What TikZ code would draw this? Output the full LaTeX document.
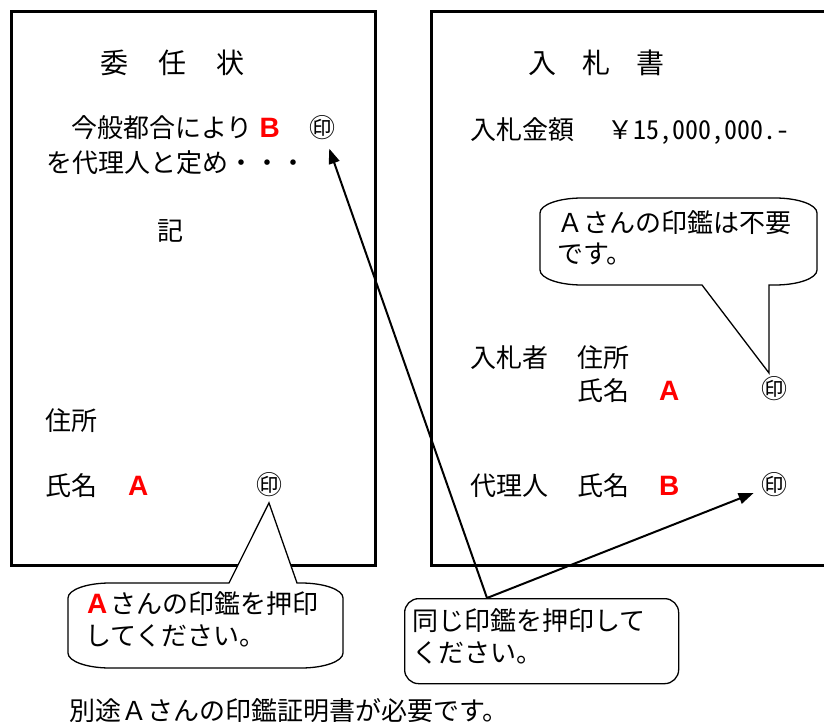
\documentclass[tikz,border=0pt]{standalone}
\usepackage{fontspec}
\setmainfont{Noto Sans CJK JP}
\newfontfamily\hwfont{Noto Sans CJK JP}[RawFeature=+hwid]
\newfontfamily\latb{Liberation Sans}
\usetikzlibrary{arrows.meta}
\newcommand\redlat[1]{{\latb\bfseries\fontsize{28}{32}\selectfont\color{red}#1}}
\tikzset{
  txt/.style={anchor=base west, inner sep=0pt, font=\fontsize{26}{32}\selectfont},
  ttl/.style={anchor=base west, inner sep=0pt, font=\fontsize{28}{34}\selectfont},
  seal/.style={circle, inner sep=0pt, minimum size=24pt, font=\fontsize{26}{26}\selectfont},
  docbox/.style={line width=3pt, line cap=rect},
  callout/.style={draw, fill=white, line width=1.3pt, line join=miter},
  roundbox/.style={draw, fill=white, line width=1.3pt, rounded corners=14pt, inner sep=0pt},
  arr/.style={line width=2pt, -{Triangle[length=15pt,width=11pt]}, shorten >=4pt},
}
\begin{document}
\begin{tikzpicture}[x=1pt,y=-1pt]
\useasboundingbox (0,0) rectangle (824,722);
\fill[white] (0,0) rectangle (824,722);
% document frames
\draw[docbox] (11,12) rectangle (375,565);
\draw[docbox] (824,12) -- (431,12) -- (431,565) -- (824,565);
% left document
\node[ttl] (t1) at (100.5,74) {委\hspace{30pt}任\hspace{30pt}状};
\node[txt] (l1) at (71,138) {今般都合により\hspace{7pt}\redlat{B}};
\node[seal] (sealB1) at (322,128) {㊞};
\node[txt] (l2) at (46,173) {を代理人と定め・・・};
\node[txt] (l3) at (157,240) {記};
\node[txt] (l4) at (45,430) {住所};
\node[txt] (l5) at (45,495) {氏名\hspace{31pt}\redlat{A}};
\node[seal] (sealA1) at (269,485) {㊞};
% right document
\node[ttl] (t2) at (528,74) {入\hspace{26pt}札\hspace{26pt}書};
\node[txt] (r1) at (470,140) {入札金額\hspace{33pt}￥{\hwfont 15,000,000.-}};
\node[txt] (r2) at (470,367) {入札者\hspace{29pt}住所};
\node[txt] (r3) at (577,400) {氏名\hspace{30pt}\redlat{A}};
\node[seal] (sealA2) at (774,389) {㊞};
\node[txt] (r4) at (470,495) {代理人\hspace{29pt}氏名\hspace{30pt}\redlat{B}};
\node[seal] (sealB2) at (774,485) {㊞};
% callout 1
\draw[callout] (229,583) -- (sealA1.south) -- (297,583) -- (301,583)
  .. controls (324.2,583) and (343,589.7) .. (343,598) -- (343,653)
  .. controls (343,661.3) and (324.2,668) .. (301,668) -- (110,668)
  .. controls (86.8,668) and (68,661.3) .. (68,653) -- (68,598)
  .. controls (68,589.7) and (86.8,583) .. (110,583) -- cycle;
\node[txt] (c1a) at (87,613) {\redlat{A}\hspace{3pt}さんの印鑑を押印};
\node[txt] (c1b) at (85,645) {してください。};
% callout 2
\coordinate (tip2) at (769,373);
\draw[callout] (702,285) -- (tip2) -- (769,285) -- (775,285)
  .. controls (798.2,285) and (817,278.3) .. (817,270) -- (817,213)
  .. controls (817,204.7) and (798.2,198) .. (775,198) -- (582,198)
  .. controls (558.8,198) and (540,204.7) .. (540,213) -- (540,270)
  .. controls (540,278.3) and (558.8,285) .. (582,285) -- cycle;
\node[txt] (c2a) at (557,232) {Ａさんの印鑑は不要};
\node[txt] (c2b) at (557,263) {です。};
% callout 3
\node[roundbox, minimum width=274pt, minimum height=85pt, anchor=north west] (c3) at (404,598) {};
\node[txt] (c3a) at (412,630) {同じ印鑑を押印して};
\node[txt] (c3b) at (412,662) {ください。};
\coordinate (fork) at (487,598);
\draw[arr] (fork) -- (sealB1);
\draw[arr] (fork) -- (sealB2);
% footer
\node[txt] (foot) at (69,720) {別途Ａさんの印鑑証明書が必要です。};
\end{tikzpicture}
\end{document}
